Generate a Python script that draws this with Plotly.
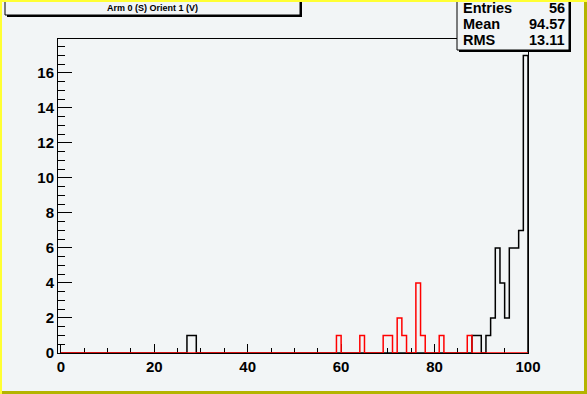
import plotly.graph_objects as go

# ---- data ----
n_bins = 100
x_min, x_max = 0, 100
black_bins = [27, 28, 88, 89, 91, 92, 93, 94, 95, 96, 97, 98, 99]
black_counts = [1, 1, 1, 1, 1, 2, 6, 4, 2, 6, 6, 7, 17]
red_bins = [59, 64, 69, 70, 72, 73, 76, 77, 81, 87]
red_counts = [1, 1, 1, 1, 2, 1, 4, 1, 1, 1]
x_tick_vals = [0, 20, 40, 60, 80, 100]
y_tick_vals = [0, 2, 4, 6, 8, 10, 12, 14, 16]
title_text = "Arm 0 (S) Orient 1 (V)"
stats_labels = ["Entries", "Mean", "RMS"]
stats_values = ["56", "94.57", "13.11"]

W, H = 587, 394
L, R, T, B = 58, 528, 39, 353
BG = "#f2f5f6"
FONT = "Liberation Sans"


def px(x):
    return (x - L) / (R - L)


def py(y):
    return (B - y) / (B - T)


def step_xy(bins, counts):
    width = (x_max - x_min) / n_bins
    full = [0] * n_bins
    for b, c in zip(bins, counts):
        full[b] = c
    xs = [x_min + i * width for i in range(n_bins)] + [x_max, x_max]
    ys = full + [full[-1], 0]
    return xs, ys


fig = go.Figure()
bx, by = step_xy(black_bins, black_counts)
rx, ry = step_xy(red_bins, red_counts)
fig.add_trace(go.Scatter(x=bx, y=by, mode="lines", line=dict(color="black", width=1.5, shape="hv"),
                         hoverinfo="skip", showlegend=False))
fig.add_trace(go.Scatter(x=rx, y=ry, mode="lines", line=dict(color="#ff0000", width=1.5, shape="hv"),
                         hoverinfo="skip", showlegend=False))

shapes = []
# title box shadow + box
shapes.append(dict(type="rect", xref="paper", yref="paper", x0=px(7), x1=px(302), y0=py(17), y1=py(-5),
                   fillcolor="black", line=dict(width=0), layer="above"))
shapes.append(dict(type="rect", xref="paper", yref="paper", x0=px(5), x1=px(300), y0=py(15), y1=py(-5),
                   fillcolor=BG, line=dict(color="black", width=1), layer="above"))
# stats box shadow + box
shapes.append(dict(type="rect", xref="paper", yref="paper", x0=px(459), x1=px(571), y0=py(52), y1=py(-5),
                   fillcolor="black", line=dict(width=0), layer="above"))
shapes.append(dict(type="rect", xref="paper", yref="paper", x0=px(457), x1=px(569), y0=py(50), y1=py(-5),
                   fillcolor=BG, line=dict(color="black", width=1), layer="above"))
# canvas bevel border
light = "#ffff33"
dark = "#b4b400"
shapes.append(dict(type="rect", xref="paper", yref="paper", x0=px(0), x1=px(2), y0=py(H), y1=py(0),
                   fillcolor=light, line=dict(width=0), layer="above"))
shapes.append(dict(type="rect", xref="paper", yref="paper", x0=px(0), x1=px(W), y0=py(2), y1=py(0),
                   fillcolor=light, line=dict(width=0), layer="above"))
shapes.append(dict(type="rect", xref="paper", yref="paper", x0=px(W - 3), x1=px(W), y0=py(H), y1=py(2),
                   fillcolor=dark, line=dict(width=0), layer="above"))
shapes.append(dict(type="rect", xref="paper", yref="paper", x0=px(2), x1=px(W), y0=py(H), y1=py(H - 3),
                   fillcolor=dark, line=dict(width=0), layer="above"))

annotations = [dict(text=title_text, xref="paper", yref="paper", x=px(152), y=py(7.5), xanchor="center",
                    yanchor="middle", showarrow=False, font=dict(family=FONT, size=9, color="black", weight="bold"))]
rows_y = [8, 24, 40]
for lab, val, yy in zip(stats_labels, stats_values, rows_y):
    annotations.append(dict(text=lab, xref="paper", yref="paper", x=px(461), y=py(yy), xanchor="left",
                            yanchor="middle", showarrow=False,
                            font=dict(family=FONT, size=14.5, color="black", weight="bold")))
    annotations.append(dict(text=val, xref="paper", yref="paper", x=px(567), y=py(yy), xanchor="right",
                            yanchor="middle", showarrow=False,
                            font=dict(family=FONT, size=14.5, color="black", weight="bold")))

fig.update_layout(
    width=W, height=H,
    margin=dict(l=L, r=W - R, t=T, b=H - B, pad=0),
    paper_bgcolor=BG, plot_bgcolor=BG,
    shapes=shapes, annotations=annotations,
    showlegend=False,
)
fig.update_xaxes(range=[-0.6, 100], tickmode="array", tickvals=x_tick_vals,
                 ticktext=[str(v) for v in x_tick_vals],
                 ticks="inside", ticklen=9, tickwidth=1, tickcolor="black",
                 minor=dict(dtick=5, tick0=0, ticks="inside", ticklen=5, tickwidth=1, tickcolor="black"),
                 showline=True, linecolor="black", linewidth=1, mirror=True,
                 showgrid=False, zeroline=False, layer="below traces",
                 tickfont=dict(family=FONT, size=15, color="black", weight="bold"))
fig.update_yaxes(range=[0, 17.94], tickmode="array", tickvals=y_tick_vals,
                 ticktext=[str(v) for v in y_tick_vals],
                 ticks="inside", ticklen=14, tickwidth=1, tickcolor="black",
                 minor=dict(dtick=0.5, tick0=0, ticks="inside", ticklen=7, tickwidth=1, tickcolor="black"),
                 showline=True, linecolor="black", linewidth=1, mirror=True,
                 showgrid=False, zeroline=False, layer="below traces",
                 tickfont=dict(family=FONT, size=15, color="black", weight="bold"))

fig.write_html("out.html", config={"displayModeBar": False},
               post_script="document.body.style.margin='0';")
